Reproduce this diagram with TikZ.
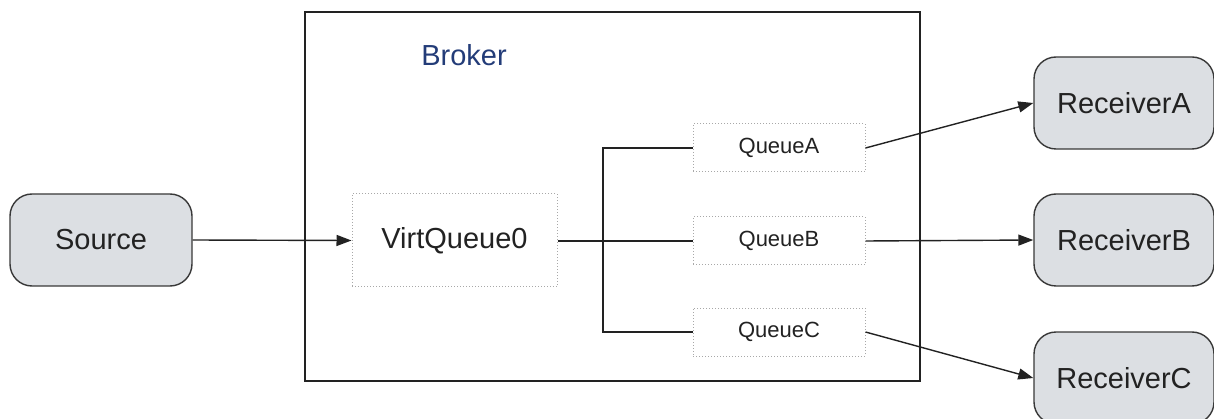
\documentclass[tikz,border=0pt]{standalone}
\usepackage{fontspec}
\setmainfont{Liberation Sans}
\usetikzlibrary{arrows.meta}
\definecolor{boxfill}{HTML}{DCDFE3}
\definecolor{ink}{HTML}{222222}
\definecolor{brokerblue}{HTML}{233C78}
\definecolor{dotgray}{HTML}{A8A8A8}
\tikzset{
  endpoint/.style={draw=ink!90, line width=1.4pt, fill=boxfill, rounded corners=22pt,
    minimum width=180pt, minimum height=92pt, text=ink, font=\fontsize{29}{33}\selectfont},
  queuebox/.style={draw=dotgray, dotted, line width=1pt, minimum width=172pt,
    minimum height=48pt, text=ink, font=\fontsize{22}{26}\selectfont},
  link/.style={draw=ink, line width=1.4pt},
  flow/.style={link, -{Triangle[length=15pt,width=11pt]}}
}
\begin{document}
\begin{tikzpicture}[x=1pt,y=-1pt]
  \useasboundingbox (0,0) rectangle (1214,419);
  % broker frame
  \draw[line width=2.4pt, draw=ink] (305,12) rectangle (920,381);
  \node[text=brokerblue, font=\fontsize{29}{33}\selectfont] (broker) at (464,55) {Broker};
  % end points
  \node[endpoint, minimum width=182pt] (src) at (101,240) {Source};
  \node[endpoint] (ra) at (1124,103) {ReceiverA};
  \node[endpoint] (rb) at (1124,240) {ReceiverB};
  \node[endpoint] (rc) at (1124,378) {ReceiverC};
  % queues
  \node[queuebox, minimum width=205pt, minimum height=93pt, font=\fontsize{29}{33}\selectfont] (vq) at (454.5,240.5) {VirtQueue0};
  \node[queuebox] (qa) at (779,148) {QueueA};
  \node[queuebox] (qb) at (779,241) {QueueB};
  \node[queuebox] (qc) at (779,332) {QueueC};
  \coordinate (trunk) at (603,241);
  % connectors
  \draw[flow] (src.east) -- (vq.west);
  \draw[link] (vq.east |- qb.west) -- (qb.west);
  \draw[link] (qa.west) -| (trunk) |- (qc.west);
  \draw[flow] (qa.east) -- (ra.west);
  \draw[flow] (qb.east) -- (rb.west);
  \draw[flow] (qc.east) -- (rc.west);
\end{tikzpicture}
\end{document}
